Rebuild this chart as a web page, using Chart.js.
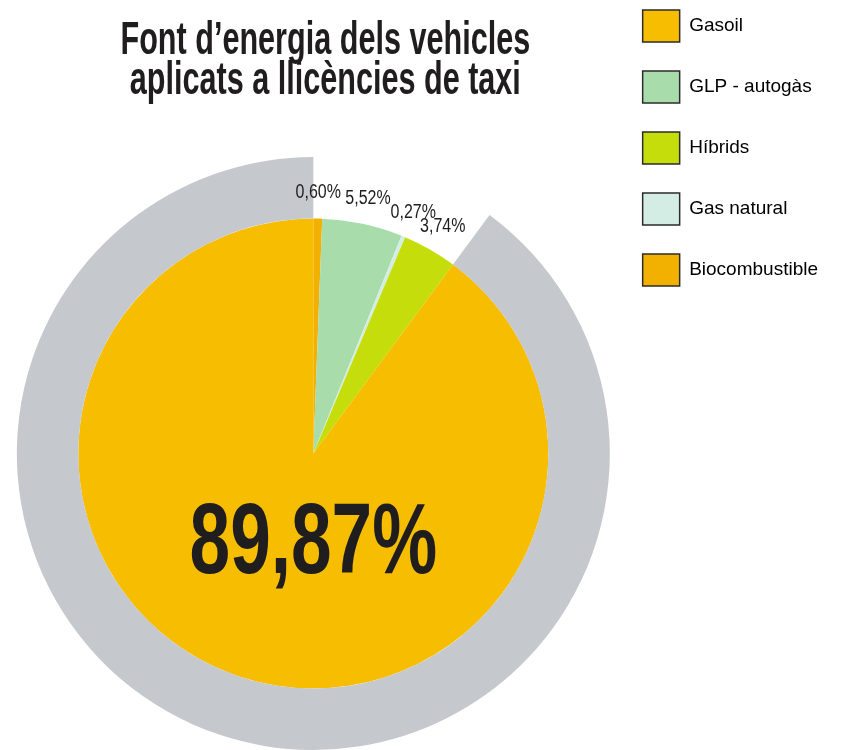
<!DOCTYPE html>
<html lang="ca">
<head>
<meta charset="utf-8">
<title>Font d'energia dels vehicles aplicats a llicències de taxi</title>
<script src="https://cdn.jsdelivr.net/npm/chart.js@4.4.1/dist/chart.umd.min.js"></script>
<style>
    html, body { margin: 0; padding: 0; background: #ffffff; }
    #wrap { position: relative; width: 848px; height: 750px; }
</style>
</head>
<body>
<div id="wrap"><canvas id="chart"></canvas></div>
<script>
// Slices in clockwise order starting at 12 o'clock
const labels = ['Biocombustible', 'GLP - autogàs', 'Gas natural', 'Híbrids', 'Gasoil'];
const values = [0.60, 5.52, 0.27, 3.74, 89.87];
const sliceColors = ['#f2b000', '#a9dcab', '#d3ece4', '#c6dd0c', '#f7bd00'];

// Legend reads top to bottom in this order
const legendOrder = ['Gasoil', 'GLP - autogàs', 'Híbrids', 'Gas natural', 'Biocombustible'];

const titleLines = ['Font d’energia dels vehicles', 'aplicats a llicències de taxi'];

const FONT = "'Liberation Sans', Arial, sans-serif";
const RING_GRAY = '#c5c8cd';
const INK = '#1f1d1e';

function fmtPct(v) {
    return v.toFixed(2).replace('.', ',') + '%';
}

// the gray ring only sits behind the largest slice
const bigIndex = values.indexOf(Math.max(...values));
const ringColors = values.map((v, i) => i === bigIndex ? RING_GRAY : 'rgba(0,0,0,0)');

// draw text squeezed horizontally, the original uses a condensed face
function condensedText(ctx, txt, x, y, sx) {
    ctx.save();
    ctx.translate(x, y);
    ctx.scale(sx, 1);
    ctx.fillText(txt, 0, 0);
    ctx.restore();
}

// percentage labels: small ones outside the pie, the big one inside
const pctLabels = {
    id: 'pctLabels',
    afterDatasetsDraw(chart) {
        const ctx = chart.ctx;
        const meta = chart.getDatasetMeta(1);
        ctx.save();
        ctx.fillStyle = INK;
        ctx.textAlign = 'center';
        ctx.textBaseline = 'middle';
        meta.data.forEach((arc, i) => {
            const p = arc.getProps(['x', 'y', 'startAngle', 'endAngle', 'outerRadius'], true);
            const txt = fmtPct(values[i]);
            if (i === bigIndex) {
                ctx.font = 'bold 100px ' + FONT;
                condensedText(ctx, txt, p.x, p.y + p.outerRadius * 0.39, 0.73);
            } else {
                const mid = (p.startAngle + p.endAngle) / 2;
                const r = p.outerRadius + 26;
                ctx.font = '20px ' + FONT;
                condensedText(ctx, txt, p.x + Math.cos(mid) * r, p.y + Math.sin(mid) * r, 0.8);
            }
        });
        ctx.restore();
    }
};

// title box comes from the title plugin (keeps the layout), text drawn condensed here
const condensedTitle = {
    id: 'condensedTitle',
    afterDraw(chart) {
        const tb = chart.titleBlock;
        const opts = chart.options.plugins.title;
        const lh = opts.font.size * opts.font.lineHeight;
        const ctx = chart.ctx;
        ctx.save();
        ctx.fillStyle = INK;
        ctx.font = 'bold ' + opts.font.size + 'px ' + FONT;
        ctx.textAlign = 'center';
        ctx.textBaseline = 'middle';
        const cx = (tb.left + tb.right) / 2 + 12;
        titleLines.forEach((line, i) => {
            condensedText(ctx, line, cx, tb.top + opts.padding.top + lh * (i + 0.5), 0.665);
        });
        ctx.restore();
    }
};

new Chart(document.getElementById('chart'), {
    type: 'pie',
    data: {
        labels: labels,
        datasets: [
            {
                // outer gray ring
                data: values,
                backgroundColor: ringColors,
                borderWidth: 0,
                hoverOffset: 0,
                hoverBorderWidth: 0,
                weight: 61.5
            },
            {
                data: values,
                backgroundColor: sliceColors,
                borderWidth: 0,
                hoverOffset: 0,
                hoverBorderWidth: 0,
                weight: 235
            }
        ]
    },
    options: {
        responsive: true,
        maintainAspectRatio: false,
        animation: false,
        layout: {
            padding: { top: -19, left: 13, right: 20, bottom: 0 }
        },
        plugins: {
            title: {
                display: true,
                text: titleLines,
                fullSize: false,
                color: 'rgba(0,0,0,0)',
                font: { family: FONT, size: 46, weight: 'bold', lineHeight: 0.87 },
                padding: { top: 40, bottom: 56 }
            },
            legend: {
                position: 'right',
                align: 'start',
                fullSize: true,
                labels: {
                    boxWidth: 37,
                    boxHeight: 32,
                    padding: 29,
                    color: INK,
                    font: { family: FONT, size: 19 },
                    generateLabels(chart) {
                        const meta = chart.getDatasetMeta(1);
                        return chart.data.labels.map((label, i) => ({
                            text: label,
                            fillStyle: meta.controller.getStyle(i).backgroundColor,
                            strokeStyle: '#2b2b2b',
                            lineWidth: 1.5,
                            hidden: false,
                            index: i
                        }));
                    },
                    sort: (a, b) => legendOrder.indexOf(a.text) - legendOrder.indexOf(b.text)
                }
            },
            tooltip: { enabled: false }
        }
    },
    plugins: [pctLabels, condensedTitle]
});
</script>
</body>
</html>
